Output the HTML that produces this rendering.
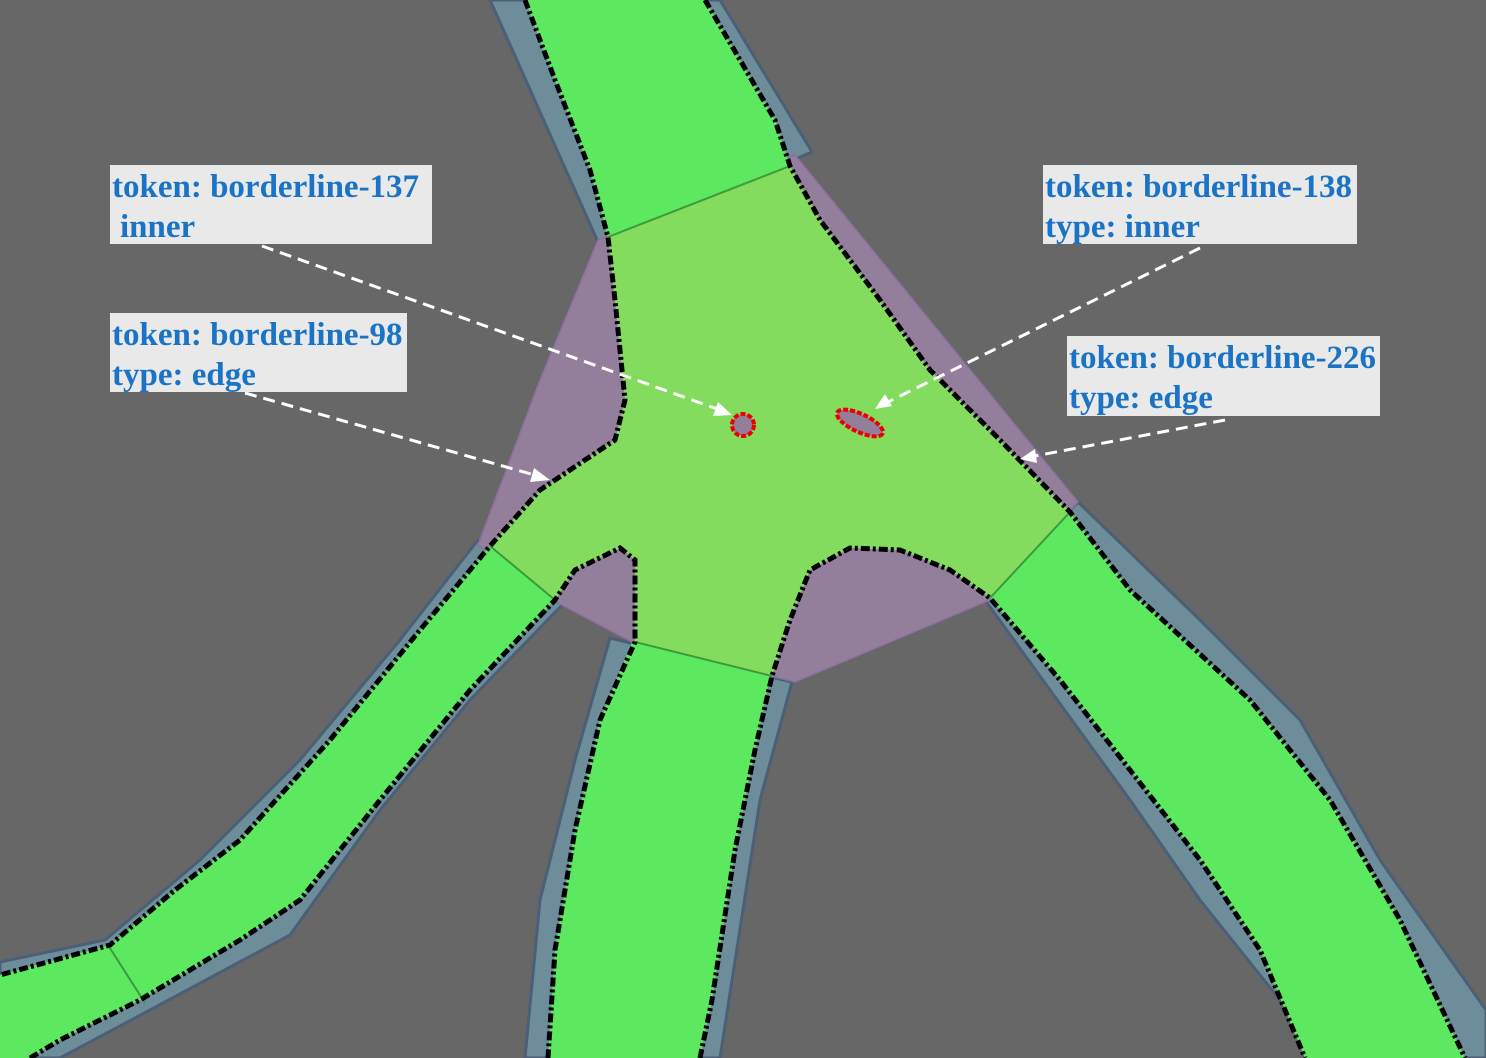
<!DOCTYPE html>
<html><head><meta charset="utf-8"><style>
html,body{margin:0;padding:0;background:#676767;}
svg{display:block}
text{font-family:"Liberation Serif",serif;font-weight:bold;font-size:33px;fill:#1a73c4}
</style></head><body>
<svg width="1486" height="1058" viewBox="0 0 1486 1058">
<rect width="1486" height="1058" fill="#676767"/>
<g stroke="#4b5f77" stroke-width="3" fill="#6d8d9a">
<polygon points="490,0 720,0 812,152 598,242"/>
<polygon points="478,540 400,640 300,760 200,860 105,940 0,962 0,1058 60,1058 150,1010 290,935 380,810 470,700 565,602"/>
<polygon points="610,638 575,760 540,900 525,1058 720,1058 760,800 792,682"/>
<polygon points="1078,502 1200,620 1300,720 1380,860 1486,1010 1486,1058 1320,1058 1280,1000 1200,900 1130,800 1050,690 985,600"/>
</g>
<polygon fill="#937f9c" stroke="#8c6fa0" stroke-width="1.5" points="598,240 795,155 1078,502 990,600 795,682 632,642 558,603 478,545 540,380"/>
<g fill="#5ce85f">
<polygon points="525,0 705,0 740,60 775,120 790,166 608,237 590,170 555,80"/>
<polygon points="490,546 555,600 470,690 380,800 300,900 240,940 140,1000 60,1040 30,1058 0,1058 0,975 110,945 175,890 240,840 330,740 420,630"/>
<polygon points="632,642 770,676 755,750 735,850 712,1000 700,1058 548,1058 555,950 575,830 600,720"/>
<polygon points="1070,512 1130,590 1250,700 1330,800 1400,920 1465,1058 1305,1058 1260,950 1200,860 1130,770 1060,680 990,598"/>
</g>
<polygon fill="#84dc5e" points="608,237 790,166 820,220 880,300 930,370 1000,440 1070,512 990,598 950,570 900,550 850,548 810,570 790,620 772,676 635,642 635,560 620,548 575,570 555,600 490,546 540,490 570,470 615,440 625,400 615,300"/>
<g stroke="#3b9a3a" stroke-width="2">
<line x1="608" y1="237" x2="790" y2="166"/><line x1="490" y1="546" x2="555" y2="600"/>
<line x1="635" y1="642" x2="772" y2="676"/><line x1="990" y1="598" x2="1070" y2="512"/>
<line x1="108" y1="945" x2="145" y2="1003"/>
</g>
<g fill="none" stroke="#000" stroke-width="5" stroke-dasharray="9 3 3 3">
<polyline points="525,0 555,80 590,170 608,237 615,300 625,400 615,440 570,470 540,490 490,546 420,630 330,740 240,840 175,890 110,945 0,975"/>
<polyline points="705,0 740,60 775,120 790,166 820,220 880,300 930,370 1000,440 1070,512 1130,590 1250,700 1330,800 1400,920 1465,1058"/>
<polyline points="30,1058 60,1040 140,1000 240,940 300,900 380,800 470,690 555,600 575,570 620,548 635,560 635,642 600,720 575,830 555,950 548,1058"/>
<polyline points="700,1058 712,1000 735,850 755,750 772,676 790,620 810,570 850,548 900,550 950,570 990,598 1060,680 1130,770 1200,860 1260,950 1305,1058"/>
</g>
<circle cx="743" cy="425" r="11" fill="#937f9c" stroke="#e00" stroke-width="4" stroke-dasharray="5 2"/>
<ellipse cx="860" cy="423" rx="25" ry="9" transform="rotate(25 860 423)" fill="#937f9c" stroke="#e00" stroke-width="4" stroke-dasharray="5 2"/>
<g stroke="#fff" stroke-width="3" stroke-dasharray="12 7" fill="none">
<line x1="262" y1="246" x2="720" y2="410"/><line x1="245" y1="393" x2="538" y2="476"/>
<line x1="1200" y1="248" x2="888" y2="402"/><line x1="1225" y1="420" x2="1035" y2="456"/>
</g>
<g fill="#fff">
<polygon points="732,415 713,416 718,402"/><polygon points="550,480 530,482 534,468"/>
<polygon points="875,409 885,394 892,406"/><polygon points="1020,459 1035,449 1037,463"/>
</g>
<g><rect x="110" y="165" width="322" height="79" fill="#e9e9e9"/><text x="112" y="197">token: borderline-137</text><text x="120" y="237">inner</text></g>
<g><rect x="110" y="313" width="297" height="79" fill="#e9e9e9"/><text x="112" y="345">token: borderline-98</text><text x="112" y="385">type: edge</text></g>
<g><rect x="1043" y="165" width="314" height="79" fill="#e9e9e9"/><text x="1045" y="197">token: borderline-138</text><text x="1045" y="237">type: inner</text></g>
<g><rect x="1067" y="336" width="313" height="80" fill="#e9e9e9"/><text x="1069" y="368">token: borderline-226</text><text x="1069" y="408">type: edge</text></g>
</svg>
</body></html>
